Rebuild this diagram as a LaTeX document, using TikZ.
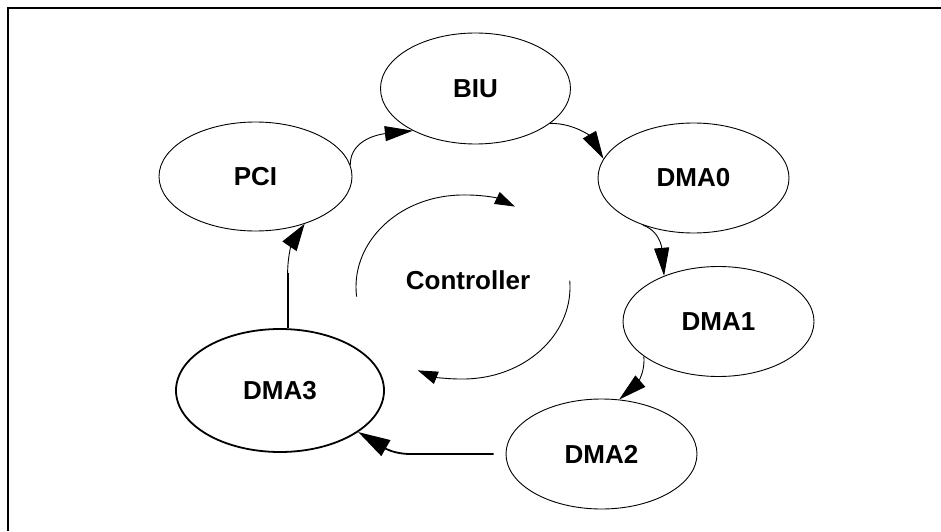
\documentclass[tikz,border=0pt]{standalone}
\usepackage{fontspec}
\setmainfont{Liberation Sans}
\usetikzlibrary{shapes.geometric, arrows.meta}

\begin{document}
\begin{tikzpicture}[
    x=1pt, y=1pt,
    >={Triangle[length=28pt,width=15pt]},
    unit/.style={draw, ellipse, line width=0.9pt, inner sep=0pt, minimum width=191pt, minimum height=110pt, font=\fontsize{26}{31}\selectfont\bfseries},
    mainunit/.style={unit, line width=1.8pt, minimum width=208pt, minimum height=123pt},
    link/.style={->, line width=0.9pt},
    heavy/.style={line width=1.8pt},
    spin/.style={-{Triangle[length=20pt,width=13pt]}, line width=0.9pt},
    frame/.style={line width=1.8pt}
]

\useasboundingbox (0,0) rectangle (941,531);
\draw[frame] (8,0) |- (941,523);

% --- Units ---
\node[unit, minimum width=193pt, minimum height=109pt] (PCI) at (255.5,354.5) {PCI};
\node[unit, minimum width=190pt, minimum height=111pt] (BIU) at (475.5,442.5) {BIU};
\node[unit] (DMA0) at (693.5,353) {DMA0};
\node[unit] (DMA1) at (718.5,209.5) {DMA1};
\node[unit] (DMA2) at (601.5,77) {DMA2};
\node[mainunit] (DMA3) at (280,140.5) {DMA3};

% --- Controller ---
\node[font=\fontsize{26}{31}\selectfont\bfseries] (ctl) at (468,251) {Controller};
\coordinate (ctlc) at (463,244);
\draw[spin] ([shift={(186:107pt and 92pt)}]ctlc) arc[start angle=186, end angle=61, x radius=107pt, y radius=92pt];
\draw[spin] ([shift={(4:107pt and 92pt)}]ctlc) arc[start angle=4, end angle=-115, x radius=107pt, y radius=92pt];

% --- Ring of transfers ---
\path[link]
(PCI.7)    edge[out=90, in=186] (BIU.214)
(BIU.-25)  edge[out=0, in=120]  (DMA0.168)
(DMA0.223) edge[out=-20, in=95] (DMA1.140)
(DMA1.205) edge[out=-85, in=41] (DMA2.72);

% DMA2 back to DMA3 is drawn heavy
\draw[heavy, -{Triangle[length=32pt,width=18pt]}, shorten <=12pt] (DMA2.west) -- ++(-95,0) to[out=180, in=-30] (DMA3.-28);

% DMA3 up to PCI: heavy stem, thin tail
\draw[heavy] (DMA3.83) -- ++(0,55) coordinate (rise);
\draw[link, -{Triangle[length=27pt,width=17pt]}] (rise) to[out=90, in=236] (PCI.-44);

\end{tikzpicture}
\end{document}
